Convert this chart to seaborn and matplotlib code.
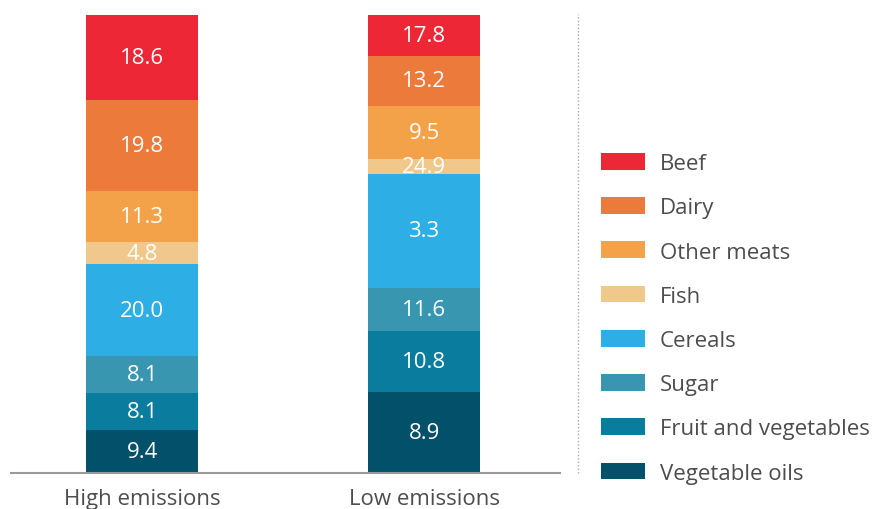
import matplotlib
matplotlib.use("Agg")
import matplotlib.pyplot as plt
import seaborn as sns
import pandas as pd
from matplotlib.patches import Patch

# categories stacked bottom -> top
foods = ["Vegetable oils", "Fruit and vegetables", "Sugar", "Cereals",
         "Fish", "Other meats", "Dairy", "Beef"]
colors = ["#02506A", "#0A7C9E", "#3996B1", "#2DAEE4",
          "#F0C88C", "#F4A24A", "#EC7A3A", "#EE2737"]
scenarios = ["High emissions", "Low emissions"]

# segment sizes (bottom -> top)
high_values = [9.4, 8.1, 8.1, 20.0, 4.8, 11.3, 19.8, 18.6]
low_values = [17.8, 13.2, 9.5, 24.9, 3.3, 11.6, 10.8, 8.9]
# labels as printed in the bars (bottom -> top)
high_labels = ["9.4", "8.1", "8.1", "20.0", "4.8", "11.3", "19.8", "18.6"]
low_labels = ["8.9", "10.8", "11.6", "3.3", "24.9", "9.5", "13.2", "17.8"]

sns.set_theme(style="white")
plt.rcParams['font.family'] = ['Open Sans', 'DejaVu Sans']

fig = plt.figure(figsize=(8.79, 5.10), dpi=100)
ax = fig.add_axes([11 / 879, 36 / 510, 549 / 879, 459 / 510])

bottoms = [0.0, 0.0]
for i, food in enumerate(foods):
    df = pd.DataFrame({"scenario": scenarios,
                       "value": [high_values[i], low_values[i]]})
    sns.barplot(data=df, x="scenario", y="value", color=colors[i],
                bottom=bottoms, width=0.397, saturation=1, ax=ax,
                linewidth=0, order=scenarios)
    for j, lab in enumerate([high_labels[i], low_labels[i]]):
        v = df["value"][j]
        ax.text(j, bottoms[j] + v / 2, lab, ha="center", va="center",
                color="white", fontsize=16)
    bottoms = [bottoms[0] + high_values[i], bottoms[1] + low_values[i]]

ax.set_xlim(-0.465, 1.482)
ax.set_ylim(0, 100.3)
ax.set_xlabel("")
ax.set_ylabel("")
ax.set_yticks([])
ax.tick_params(axis="x", length=0, labelsize=16, labelcolor="#4d4d4d", pad=11)
sns.despine(ax=ax, left=True)
ax.spines["bottom"].set_color("#9a9a9a")
ax.spines["bottom"].set_linewidth(1.5)

# dotted separator
fig.add_artist(plt.Line2D([578 / 879, 578 / 879], [36 / 510, 495 / 510],
                          transform=fig.transFigure, color="#aaaaaa",
                          linestyle=(0, (1, 1.5)), linewidth=1))

handles = [Patch(facecolor=c, edgecolor="none") for c in colors[::-1]]
leg = fig.legend(handles, foods[::-1], loc="upper left",
                 bbox_to_anchor=(601 / 879, 1 - 154 / 510), frameon=False,
                 fontsize=16, handlelength=1.98, handleheight=0.77,
                 labelspacing=1.045, handletextpad=0.68, borderpad=0,
                 borderaxespad=0)
for t in leg.get_texts():
    t.set_color("#4d4d4d")

fig.savefig("out.png", dpi=100)
